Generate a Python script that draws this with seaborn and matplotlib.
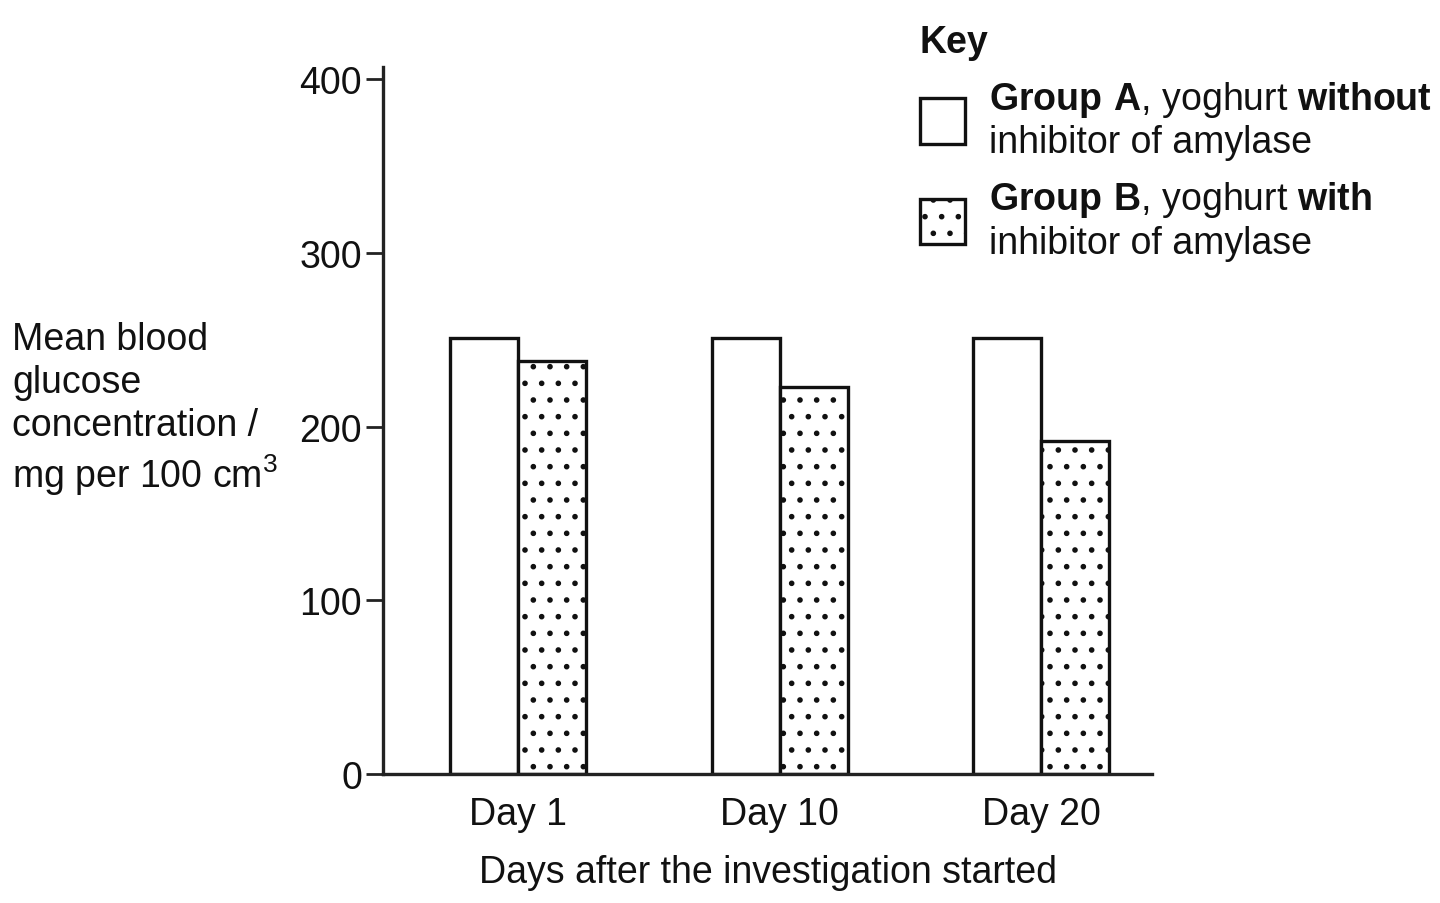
import pandas as pd
import seaborn as sns
import matplotlib.pyplot as plt
from matplotlib.patches import Patch

# values
days = ["Day 1", "Day 10", "Day 20"]
group_a = [251, 251, 251]
group_b = [238, 223, 192]
groups = ["Group A", "Group B"]

data = pd.DataFrame({
    "day": days * 2,
    "group": [groups[0]] * 3 + [groups[1]] * 3,
    "glucose": group_a + group_b,
})

sns.set_style("white")
plt.rcParams["font.family"] = ["Liberation Sans", "DejaVu Sans"]
plt.rcParams["mathtext.fontset"] = "custom"
plt.rcParams["mathtext.rm"] = "Liberation Sans"
plt.rcParams["mathtext.bf"] = "Liberation Sans:bold"
plt.rcParams["hatch.linewidth"] = 1.6
plt.rcParams["hatch.color"] = "#333333"
plt.rcParams["text.color"] = "#111111"
plt.rcParams["axes.labelcolor"] = "#111111"
plt.rcParams["xtick.color"] = "#111111"
plt.rcParams["ytick.color"] = "#111111"

fs = 27

fig = plt.figure(figsize=(14.4, 9.04), dpi=100)
ax = fig.add_axes([0.266, 0.1427, 0.534, 0.782])

sns.barplot(
    data=data, x="day", y="glucose", hue="group",
    palette=["white", "white"], width=0.52, gap=0,
    edgecolor="#111111", linewidth=2.4, legend=False, ax=ax,
)

# dotted fill for group B
for bar in ax.containers[1]:
    bar.set_hatch(".")

ax.set_ylim(0, 407)
ax.set_xlim(-0.516, 2.424)
ax.set_yticks([0, 100, 200, 300, 400])
ax.set_xlabel("Days after the investigation started", fontsize=fs, labelpad=16)
ax.set_ylabel("")
ax.tick_params(axis="y", left=True, length=12, width=2, color="#222222",
               labelsize=fs, pad=3)
ax.tick_params(axis="x", bottom=False, length=0, labelsize=fs, pad=16)

for side in ["top", "right"]:
    ax.spines[side].set_visible(False)
for side in ["left", "bottom"]:
    ax.spines[side].set_linewidth(2.4)
    ax.spines[side].set_color("#222222")

fig.text(12 / 1440, 1 - 410 / 904,
         "Mean blood\nglucose\nconcentration /\nmg per 100 cm$^3$",
         fontsize=fs, ha="left", va="center", linespacing=1.25)

handles = [
    Patch(facecolor="white", edgecolor="#111111", linewidth=2.4),
    Patch(facecolor="white", edgecolor="#111111", linewidth=2.4, hatch="."),
]
labels = [
    r"$\mathbf{Group\ A}$, yoghurt $\mathbf{without}$" + "\ninhibitor of amylase",
    r"$\mathbf{Group\ B}$, yoghurt $\mathbf{with}$" + "\ninhibitor of amylase",
]
leg = fig.legend(
    handles, labels, title="Key", loc="upper left",
    bbox_to_anchor=(905 / 1440, 1 - 10 / 904), frameon=False,
    fontsize=fs, title_fontproperties={"size": fs, "weight": "bold"},
    handlelength=1.2, handleheight=1.5, handletextpad=0.65,
    labelspacing=0.5, borderaxespad=0,
)
leg._legend_box.align = "left"

fig.savefig("out.png", dpi=100, facecolor="white")
